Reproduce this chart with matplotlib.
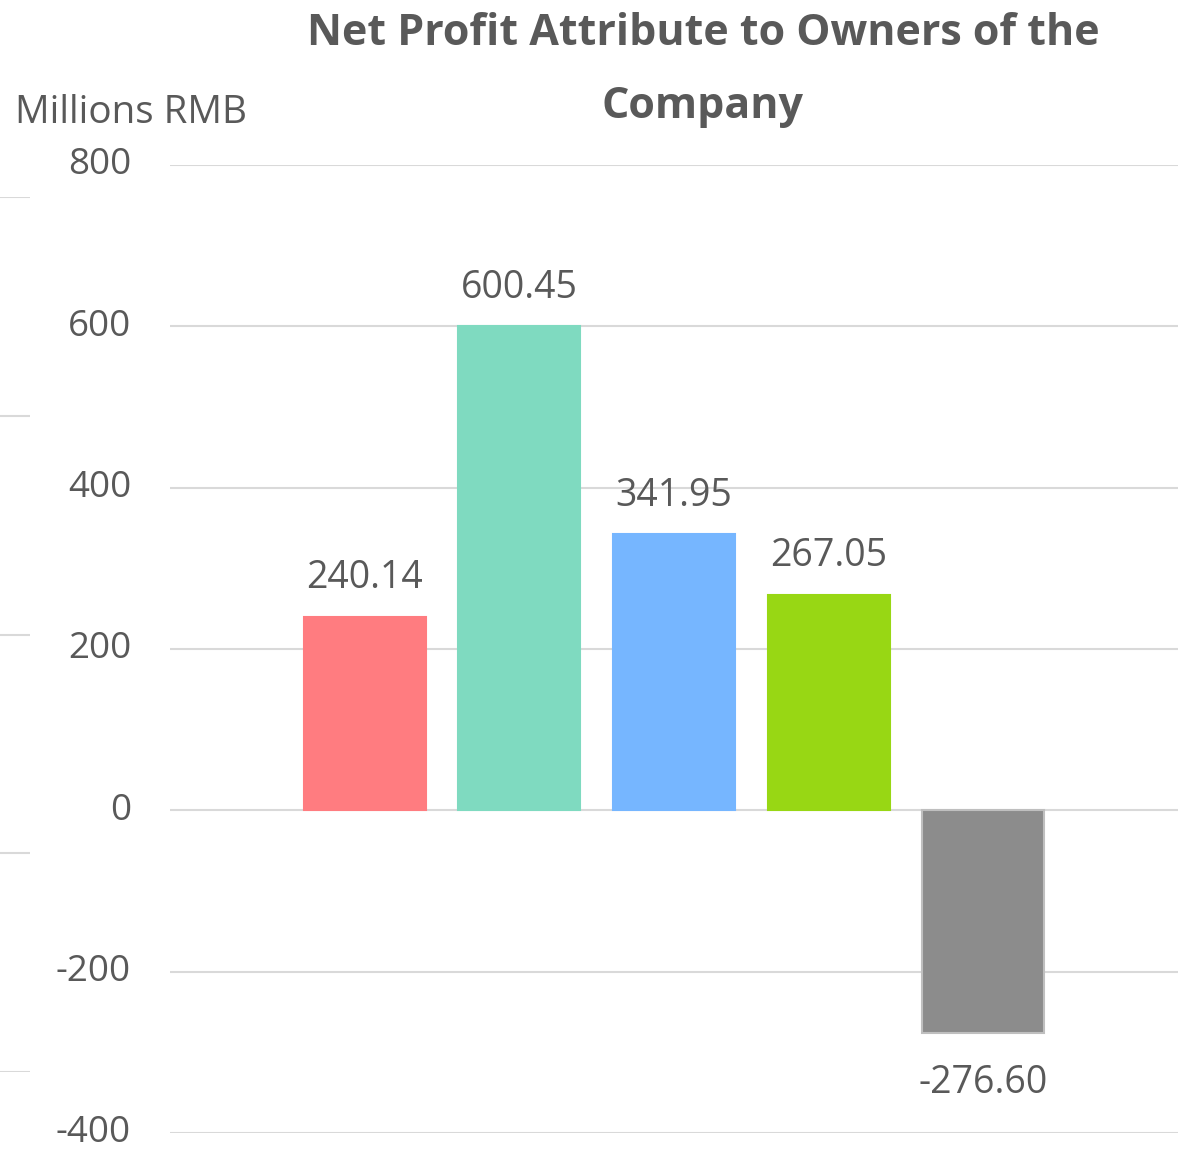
import matplotlib.pyplot as plt
import matplotlib.transforms as mtransforms
import numpy as np

plt.rcParams['font.family'] = ['Open Sans', 'DejaVu Sans']

# data
values = [240.14, 600.45, 341.95, 267.05, -276.60]
labels = ['240.14', '600.45', '341.95', '267.05', '-276.60']
colors = ['#FF7C80', '#7FDAC0', '#76B6FF', '#98D714', '#8C8C8C']
edges = ['#FF7C80', '#7FDAC0', '#76B6FF', '#98D714', '#BFBFBF']
yticks = [-400, -200, 0, 200, 400, 600, 800]

W, H = 1192, 1154
txt = '#595959'
grid = '#D9D9D9'

fig = plt.figure(figsize=(W / 100, H / 100), dpi=100)
ax = fig.add_axes([170 / W, (H - 1133) / H, (1178 - 170) / W, (1133 - 165) / H])

x = np.arange(len(values))
bars = ax.bar(x, values, width=0.79, color=colors, edgecolor=edges, linewidth=1.5, zorder=3)

for b, v, s in zip(bars, values, labels):
    cx = b.get_x() + b.get_width() / 2
    if v >= 0:
        ax.annotate(s, (cx, v), xytext=(0, 14), textcoords='offset points',
                    ha='center', va='bottom', fontsize=27, color=txt)
    else:
        ax.annotate(s, (cx, v), xytext=(0, -22), textcoords='offset points',
                    ha='center', va='top', fontsize=27, color=txt)

ax.set_xlim(-1.26, len(values) - 1 + 1.26)
ax.set_ylim(-400, 800)
ax.set_yticks(yticks)
ax.set_yticklabels([str(t) for t in yticks], fontsize=26.5, color=txt)
ax.tick_params(axis='y', length=0, pad=28)
ax.set_xticks([])
ax.grid(axis='y', color=grid, linewidth=1.5, zorder=0)
for sp in ax.spines.values():
    sp.set_visible(False)

# nudge tick labels up a few pixels so they sit on the gridlines
shift = mtransforms.ScaledTranslation(0, 4 / 100, fig.dpi_scale_trans)
for lab in ax.get_yticklabels():
    lab.set_transform(lab.get_transform() + shift)

# stray gridlines of a neighbouring chart at the left edge
ax2 = fig.add_axes([0, (H - 1072) / H, 30 / W, (1072 - 197) / H])
ax2.set_ylim(0, 4)
ax2.set_yticks(np.arange(5))
ax2.set_xticks([])
ax2.tick_params(length=0, labelleft=False)
ax2.grid(axis='y', color=grid, linewidth=1.5)
ax2.patch.set_alpha(0)
for sp in ax2.spines.values():
    sp.set_visible(False)

fig.text(703 / W, 1 - 70 / H, 'Net Profit Attribute to Owners of the\nCompany',
         ha='center', va='center', fontsize=31, fontweight='bold', color=txt,
         linespacing=1.91)
fig.text(15 / W, 1 - 113 / H, 'Millions RMB', ha='left', va='center',
         fontsize=27.8, color=txt)

fig.savefig('out.png', dpi=100)
